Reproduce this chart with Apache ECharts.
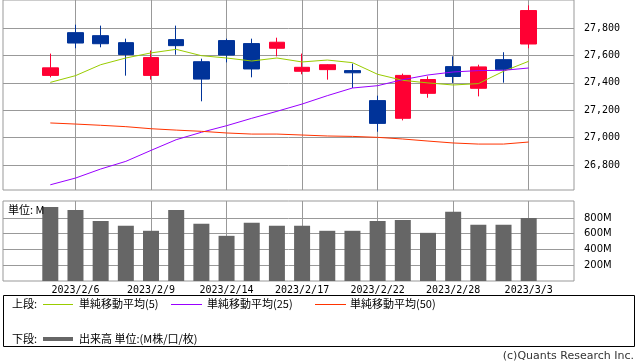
<!DOCTYPE html>
<html>
<head>
<meta charset="utf-8">
<script src="https://cdn.jsdelivr.net/npm/echarts@6/dist/echarts.min.js"></script>
<style>
html,body{margin:0;padding:0;background:#fff;}
#c{width:638px;height:362px;}
</style>
</head>
<body>
<div id="c"></div>
<script>
const dates = ['2023/2/3','2023/2/6','2023/2/7','2023/2/8','2023/2/9','2023/2/10','2023/2/13','2023/2/14','2023/2/15','2023/2/16','2023/2/17','2023/2/20','2023/2/21','2023/2/22','2023/2/24','2023/2/27','2023/2/28','2023/3/1','2023/3/2','2023/3/3'];
const openV  = [27454,27766,27744,27693,27454,27715,27554,27708,27686,27652,27484,27496,27489,27270,27141,27323,27518,27360,27569,27683];
const closeV = [27509,27690,27685,27606,27584,27671,27427,27602,27501,27696,27513,27532,27473,27104,27454,27424,27446,27516,27498,27927];
const lowV   = [27440,27652,27659,27452,27423,27605,27265,27549,27440,27593,27462,27423,27362,27043,27126,27291,27399,27301,27401,27652];
const highV  = [27613,27824,27817,27722,27635,27817,27576,27722,27722,27729,27613,27535,27540,27306,27467,27447,27593,27532,27623,27965];
const ma5  = [27403,27452,27532,27581,27618,27644,27598,27581,27559,27581,27552,27566,27547,27462,27418,27399,27384,27394,27484,27557];
const ma25 = [26656,26705,26771,26827,26907,26985,27039,27087,27141,27192,27245,27306,27362,27379,27423,27457,27479,27489,27491,27508];
const ma50 = [27107,27099,27090,27080,27065,27055,27046,27034,27026,27026,27019,27012,27009,27002,26990,26975,26961,26953,26953,26968];
const volume = [940,902,762,700,637,902,726,573,740,700,700,637,637,762,775,611,879,713,713,800];
const priceTicks = [26800,27000,27200,27400,27600,27800];
const volTicks = [200,400,600,800];

const candleData = dates.map((d,i)=>[openV[i], closeV[i], lowV[i], highV[i]]);
const everyThird = (idx) => idx % 3 === 1;
const GRID_COLOR = '#999';
const chart = echarts.init(document.getElementById('c'));
const cjk = '"Noto Sans CJK JP", sans-serif';

chart.setOption({
  animation: false,
  backgroundColor: '#fff',
  grid: [
    {left:3, top:0, width:571, height:190, show:true, borderColor:GRID_COLOR, borderWidth:1},
    {left:50.3, top:0, width:478.4, height:190},
    {left:3, top:201, width:571, height:80, show:true, borderColor:GRID_COLOR, borderWidth:1},
    {left:50.3, top:201, width:478.4, height:80}
  ],
  xAxis: [
    {gridIndex:0, type:'value', show:false, min:0, max:1},
    {gridIndex:1, type:'category', data:dates, boundaryGap:false,
      axisLine:{show:false}, axisTick:{show:false}, axisLabel:{show:false},
      splitLine:{show:true, interval:everyThird, lineStyle:{color:GRID_COLOR, width:1}}},
    {gridIndex:2, type:'value', show:false, min:0, max:1},
    {gridIndex:3, type:'category', data:dates, boundaryGap:false,
      axisLine:{show:false}, axisTick:{show:false},
      axisLabel:{show:true, interval:everyThird, margin:4, color:'#000', fontSize:10, fontFamily:'"DejaVu Sans Mono", monospace'},
      splitLine:{show:true, interval:everyThird, lineStyle:{color:GRID_COLOR, width:1}}}
  ],
  yAxis: [
    {gridIndex:0, type:'value', position:'right', min:26618, max:28004, splitNumber:7, minInterval:200, maxInterval:200,
      axisLine:{show:false},
      axisTick:{show:true, inside:false, length:5, customValues:priceTicks, lineStyle:{color:GRID_COLOR}},
      axisLabel:{show:true, margin:10, color:'#000', fontSize:10, fontFamily:'"DejaVu Sans Mono", monospace',
        customValues:priceTicks,
        formatter:(v)=> (v % 200 === 0) ? v.toLocaleString('en-US') : ''},
      splitLine:{show:true, lineStyle:{color:GRID_COLOR, width:1}}},
    {gridIndex:1, type:'value', min:26618, max:28004, show:false, splitLine:{show:false}},
    {gridIndex:2, type:'value', position:'right', min:0, max:1015, splitNumber:5, minInterval:200, maxInterval:200,
      axisLine:{show:false},
      axisTick:{show:true, inside:false, length:5, customValues:volTicks, lineStyle:{color:GRID_COLOR}},
      axisLabel:{show:true, margin:10, color:'#000', fontSize:10, fontFamily:'"DejaVu Sans", sans-serif',
        customValues:volTicks,
        formatter:(v)=> (v > 0 && v % 200 === 0 && v < 1000) ? v + 'M' : ''},
      splitLine:{show:true, lineStyle:{color:GRID_COLOR, width:1}}},
    {gridIndex:3, type:'value', min:0, max:1015, show:false, splitLine:{show:false}}
  ],
  series: [
    {type:'candlestick', xAxisIndex:1, yAxisIndex:1, data:candleData, barWidth:16, clip:false,
      itemStyle:{color:'#ff0033', color0:'#003399', borderColor:'#ff0033', borderColor0:'#003399', borderWidth:1}},
    {type:'line', name:'単純移動平均(5)', xAxisIndex:1, yAxisIndex:1, data:ma5, symbol:'none', clip:false,
      lineStyle:{color:'#99cc00', width:1}, z:5},
    {type:'line', name:'単純移動平均(25)', xAxisIndex:1, yAxisIndex:1, data:ma25, symbol:'none', clip:false,
      lineStyle:{color:'#9900ff', width:1}, z:5},
    {type:'line', name:'単純移動平均(50)', xAxisIndex:1, yAxisIndex:1, data:ma50, symbol:'none', clip:false,
      lineStyle:{color:'#ff3300', width:1}, z:5},
    {type:'bar', name:'出来高', xAxisIndex:3, yAxisIndex:3, data:volume, barWidth:16, clip:false,
      itemStyle:{color:'#666666'}}
  ],
  graphic: [
    {type:'text', left:8, top:204, style:{text:'単位: M', font:'11px ' + cjk, fill:'#000'}, z:10},
    {type:'rect', shape:{x:3.5, y:295.5, width:631, height:51}, style:{fill:'none', stroke:'#000', lineWidth:1}},
    {type:'text', x:12, y:304, style:{text:'上段:', font:'11px ' + cjk, fill:'#000', verticalAlign:'middle'}},
    {type:'line', shape:{x1:43, y1:304.5, x2:73, y2:304.5}, style:{stroke:'#99cc00', lineWidth:1}},
    {type:'text', x:79, y:304, style:{text:'単純移動平均(5)', font:'11px ' + cjk, fill:'#000', verticalAlign:'middle'}},
    {type:'line', shape:{x1:171, y1:304.5, x2:202, y2:304.5}, style:{stroke:'#9900ff', lineWidth:1}},
    {type:'text', x:207, y:304, style:{text:'単純移動平均(25)', font:'11px ' + cjk, fill:'#000', verticalAlign:'middle'}},
    {type:'line', shape:{x1:315, y1:304.5, x2:346, y2:304.5}, style:{stroke:'#ff3300', lineWidth:1}},
    {type:'text', x:350, y:304, style:{text:'単純移動平均(50)', font:'11px ' + cjk, fill:'#000', verticalAlign:'middle'}},
    {type:'text', x:12, y:339, style:{text:'下段:', font:'11px ' + cjk, fill:'#000', verticalAlign:'middle'}},
    {type:'line', shape:{x1:43, y1:339, x2:73, y2:339}, style:{stroke:'#666666', lineWidth:4}},
    {type:'text', x:79, y:339, style:{text:'出来高 単位:(M株/口/枚)', font:'11px ' + cjk, fill:'#000', verticalAlign:'middle'}},
    {type:'text', x:634, y:356, style:{text:'(c)Quants Research Inc.', font:'11px "DejaVu Sans", sans-serif', fill:'#333', align:'right', verticalAlign:'middle'}}
  ]
});
</script>
</body>
</html>
